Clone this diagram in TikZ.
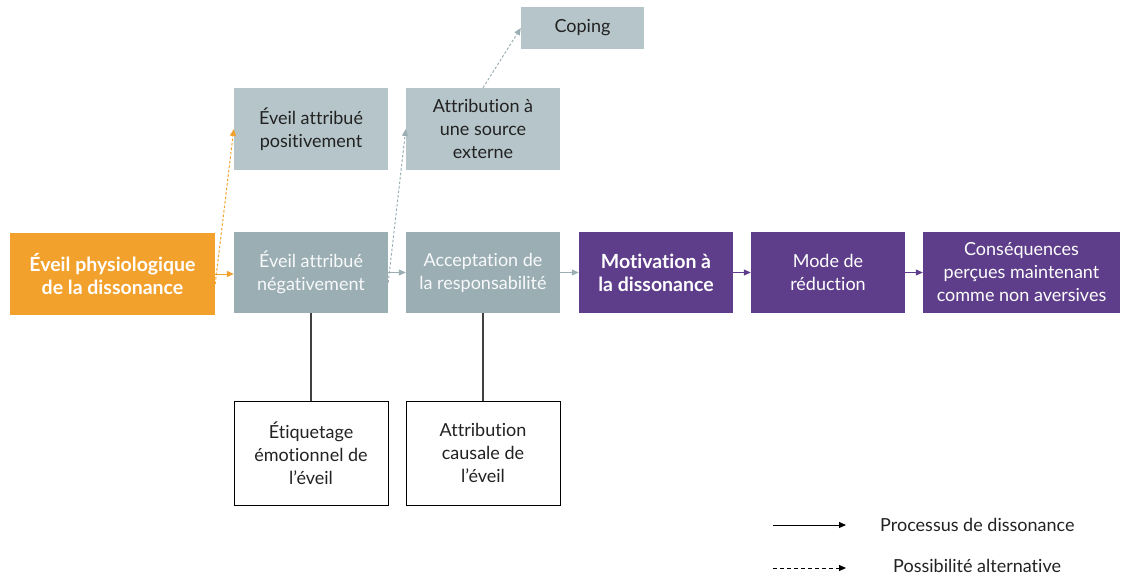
\documentclass[tikz,border=0pt]{standalone}
\usepackage{fontspec}
\setmainfont{Lato}[Ligatures=NoCommon]
\usetikzlibrary{arrows.meta,positioning}
\definecolor{orangeC}{HTML}{F2A12C}
\definecolor{grayD}{HTML}{9BAEB4}
\definecolor{grayL}{HTML}{B6C5C9}
\definecolor{purpleC}{HTML}{5E3E8A}
\definecolor{txtD}{HTML}{222222}
\tikzset{
  box/.style={rectangle, inner sep=0pt, align=center, font=\fontsize{18}{23}\selectfont},
  boldf/.style={font=\bfseries\fontsize{19.5}{23}\selectfont},
  boxo/.style={box, fill=orangeC, text=white, boldf},
  boxg/.style={box, fill=grayD, text=white!93!grayD},
  boxl/.style={box, fill=grayL, text=txtD},
  boxp/.style={box, fill=purpleC, text=white},
  boxw/.style={box, draw=black, line width=0.9pt, fill=white, text=txtD},
  tip/.style={-{Triangle[length=7pt,width=6pt]}},
  arr/.style={tip, line width=1pt},
  dsh/.style={tip, line width=1pt, dash pattern=on 2.5pt off 2pt},
  legtxt/.style={font=\fontsize{18}{20}\selectfont, text=txtD, anchor=west, inner sep=0pt}
}
\begin{document}
\begin{tikzpicture}[x=1pt,y=-1pt]
\useasboundingbox (0,0) rectangle (1121,578);
% boxes
\node[boxo, minimum width=205pt, minimum height=82pt] (orig) at (112.5,274) {Éveil physiologique\\de la dissonance};
\node[boxg, minimum width=154pt, minimum height=81pt] (neg) at (311,272.5) {Éveil attribué\\négativement};
\node[boxg, minimum width=154pt, minimum height=81pt] (acc) at (483,272.5) {Acceptation de\\la responsabilité};
\node[boxp, boldf, minimum width=154pt, minimum height=81pt] (mot) at (656,272.5) {Motivation à\\la dissonance};
\node[boxp, minimum width=154pt, minimum height=81pt] (mode) at (828,272.5) {Mode de\\réduction};
\node[boxp, minimum width=197pt, minimum height=81pt] (cons) at (1021.5,272.5) {Conséquences\\perçues maintenant\\comme non aversives};
\node[boxl, minimum width=154pt, minimum height=82pt] (pos) at (311,129) {Éveil attribué\\positivement};
\node[boxl, minimum width=154pt, minimum height=82pt] (ext) at (483,129) {Attribution à\\une source\\externe};
\node[boxl, minimum width=123pt, minimum height=42pt] (cop) at (582.5,28) {Coping};
\node[boxw, minimum width=154pt, minimum height=104pt] (etq) at (311,453) {Étiquetage\\émotionnel de\\l’éveil};
\node[boxw, minimum width=154pt, minimum height=104pt] (cau) at (483,453) {Attribution\\causale de\\l’éveil};
% connectors
\draw[arr, orangeC] (orig.east) -- (neg.west |- orig.east);
\draw[arr, grayD] (neg) -- (acc);
\draw[arr, grayD] (acc) -- (mot);
\draw[arr, purpleC] (mot) -- (mode);
\draw[arr, purpleC] (mode) -- (cons);
\draw[dsh, orangeC] ([yshift=-10pt]orig.east) -- ([yshift=0pt]pos.west);
\draw[dsh, grayD] ([yshift=-10pt]neg.east) -- (ext.west);
\draw[dsh, grayD] (ext.north) -- (cop.west);
\draw[line width=1.3pt, black!75] (neg.south) -- (etq.north);
\draw[line width=1.3pt, black!75] (acc.south) -- (cau.north);
% legend
\coordinate (l1a) at (773,525); \coordinate (l1b) at (846,525);
\coordinate (l2a) at (773,568); \coordinate (l2b) at (846,568);
\draw[tip, line width=1pt, black] (l1a) -- (l1b);
\draw[tip, line width=1pt, black, dash pattern=on 4pt off 3pt] (l2a) -- (l2b);
\node[legtxt] (leg1) at (880,525) {Processus de dissonance};
\node[legtxt] (leg2) at (893,566) {Possibilité alternative};
\end{tikzpicture}
\end{document}
